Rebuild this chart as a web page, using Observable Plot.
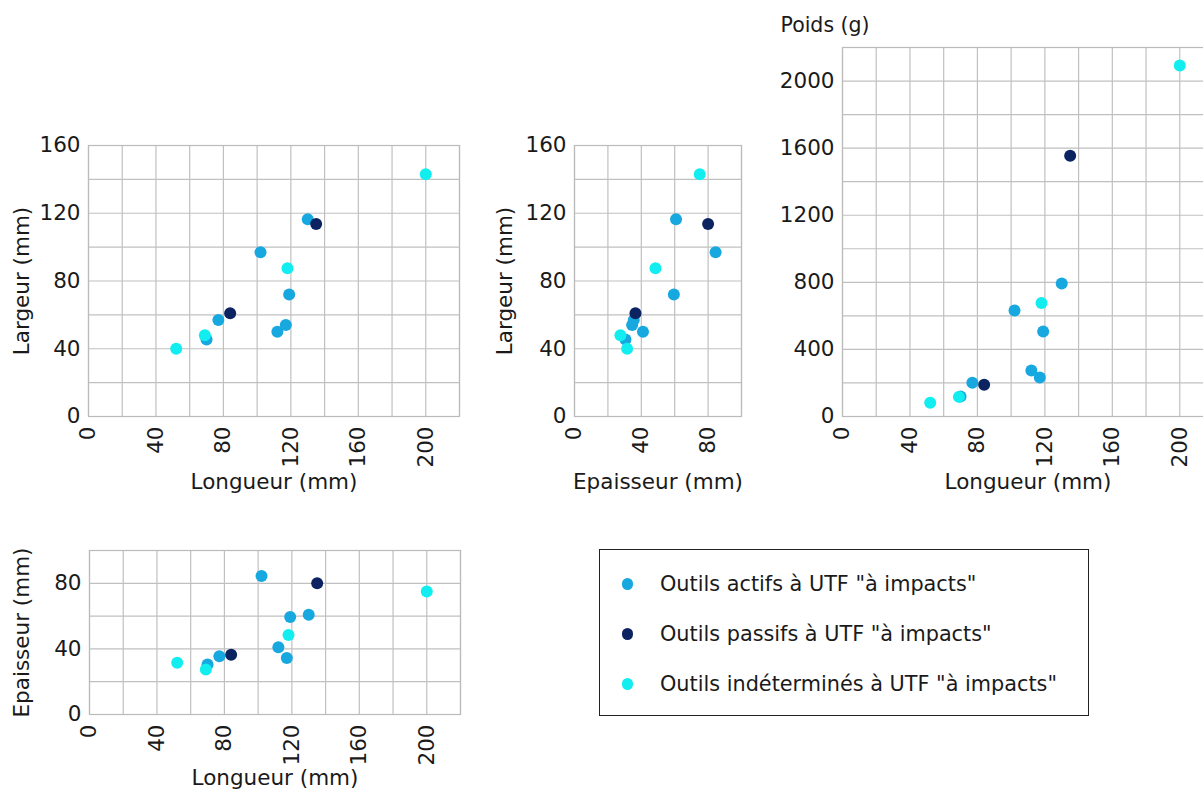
<!DOCTYPE html>
<html>
<head>
<meta charset="utf-8">
<script src="https://cdn.jsdelivr.net/npm/d3@7"></script>
<script src="https://cdn.jsdelivr.net/npm/@observablehq/plot@0.6"></script>
<style>
  html, body { margin: 0; padding: 0; background: #fff; }
  body { width: 1203px; height: 789px; overflow: hidden; position: relative; font-family: "DejaVu Sans", sans-serif; color: #1a1a1a; }
  .panel { position: absolute; }
  .panel svg { overflow: visible; max-width: none !important; }
  #legend { position: absolute; left: 599px; top: 549px; width: 488px; height: 165px; border: 1.6px solid #222; box-sizing: content-box; }
  .item { position: absolute; left: 0; font-size: 20.8px; line-height: 21px; white-space: nowrap; }
  .item .sw { position: absolute; left: 21.5px; top: 4px; width: 11.5px; height: 11.5px; border-radius: 50%; }
  .item .lb { position: absolute; left: 60px; top: 0; }
</style>
</head>
<body>
<div id="p1" class="panel" style="left:0px; top:130px; width:469px"></div>
<div id="p2" class="panel" style="left:490px; top:130px; width:261px"></div>
<div id="p3" class="panel" style="left:760px; top:0px; width:463px"></div>
<div id="p4" class="panel" style="left:0px; top:530px; width:469px"></div>
<div id="legend"></div>
<script>
// ---- Data ----
const typeNames = [
  'Outils actifs à UTF "à impacts"',
  'Outils passifs à UTF "à impacts"',
  'Outils indéterminés à UTF "à impacts"'
];
const typeColors = ["#17a8e0", "#0b2461", "#12eef0"];

// one entry per tool: type index, longueur, largeur, epaisseur (mm), poids (g)
const toolType  = [0, 0, 0, 0, 0, 0, 0, 1, 1, 2, 2, 2, 2];
const longueur  = [70, 77, 102, 112, 117, 119, 130, 84, 135, 52, 69, 118, 200];
const largeur   = [45.5, 57, 97, 50, 54, 72, 116.5, 61, 113.7, 40, 48, 87.5, 143];
const epaisseur = [30.5, 35.5, 84.5, 41, 34.5, 59.5, 60.8, 36.5, 80, 31.5, 27.5, 48.5, 75];
const poids     = [119, 201, 632, 274, 233, 507, 793, 189, 1555, 82, 117, 676, 2093];

const ticksLongueur = [0, 40, 80, 120, 160, 200];
const ticksLargeur = [0, 40, 80, 120, 160];
const ticksEpaisseur = [0, 40, 80];
const ticksPoids = [0, 400, 800, 1200, 1600, 2000];

const rows = toolType.map((t, i) => ({
  type: typeNames[t], longueur: longueur[i], largeur: largeur[i],
  epaisseur: epaisseur[i], poids: poids[i]
}));

const FS = 21.5;

function panel(o) {
  const marks = [
    Plot.gridX(d3.range(o.xDomain[0], o.xDomain[1] + 1e-9, o.xStep), {stroke: "#c0c0c0", strokeOpacity: 1, strokeWidth: 1.2}),
    Plot.gridY(d3.range(o.yDomain[0], o.yDomain[1] + 1e-9, o.yStep), {stroke: "#c0c0c0", strokeOpacity: 1, strokeWidth: 1.2}),
    Plot.frame({stroke: "#bbbbbb", strokeWidth: 1.2}),
    Plot.axisX(o.xTicks, {tickSize: 0, tickPadding: 10, tickRotate: -90, label: null, tickFormat: d => String(d), fontSize: FS}),
    Plot.axisY(o.yTicks, {tickSize: 0, tickPadding: 8, label: null, tickFormat: d => String(d), fontSize: FS}),
    Plot.dot(rows, {x: o.xKey, y: o.yKey, fill: "type", r: 6}),
    Plot.text([o.xLabel], {frameAnchor: "bottom", lineAnchor: "middle", textAnchor: "middle", dy: o.xLabelDy, fontSize: FS})
  ];
  if (o.yLabel) marks.push(Plot.text([o.yLabel], {frameAnchor: "left", rotate: -90, textAnchor: "middle", lineAnchor: "middle", dx: o.yLabelDx, fontSize: FS}));
  if (o.topLabel) marks.push(Plot.text([o.topLabel], {frameAnchor: "top-left", textAnchor: "start", lineAnchor: "middle", dx: o.topDx, dy: o.topDy, fontSize: FS - 1}));
  return Plot.plot({
    width: o.width, height: o.height,
    marginLeft: o.ml, marginRight: o.mr, marginTop: o.mt, marginBottom: o.mb,
    style: {fontFamily: "DejaVu Sans, sans-serif", fontSize: FS + "px", color: "#1a1a1a", background: "transparent", overflow: "visible", maxWidth: "none"},
    x: {domain: o.xDomain},
    y: {domain: o.yDomain},
    color: {domain: typeNames, range: typeColors},
    marks
  });
}

document.getElementById("p1").append(panel({
  width: 469, height: 370, ml: 88, mr: 10, mt: 15, mb: 84,
  xDomain: [0, 220], yDomain: [0, 160], xStep: 20, yStep: 20,
  xTicks: ticksLongueur, yTicks: ticksLargeur, xKey: "longueur", yKey: "largeur",
  xLabel: "Longueur (mm)", xLabelDy: 66, yLabel: "Largeur (mm)", yLabelDx: -66
}));
document.getElementById("p2").append(panel({
  width: 261, height: 370, ml: 84, mr: 10, mt: 15, mb: 84,
  xDomain: [0, 100], yDomain: [0, 160], xStep: 20, yStep: 20,
  xTicks: ticksEpaisseur, yTicks: ticksLargeur, xKey: "epaisseur", yKey: "largeur",
  xLabel: "Epaisseur (mm)", xLabelDy: 66, yLabel: "Largeur (mm)", yLabelDx: -69
}));
document.getElementById("p3").append(panel({
  width: 463, height: 500, ml: 82, mr: 10, mt: 47, mb: 84,
  xDomain: [0, 220], yDomain: [0, 2200], xStep: 20, yStep: 200,
  xTicks: ticksLongueur, yTicks: ticksPoids, xKey: "longueur", yKey: "poids",
  xLabel: "Longueur (mm)", xLabelDy: 66, topLabel: "Poids (g)", topDx: -62, topDy: -22
}));
document.getElementById("p4").append(panel({
  width: 469, height: 259, ml: 89, mr: 9, mt: 20, mb: 75,
  xDomain: [0, 220], yDomain: [0, 100], xStep: 20, yStep: 20,
  xTicks: ticksLongueur, yTicks: ticksEpaisseur, xKey: "longueur", yKey: "epaisseur",
  xLabel: "Longueur (mm)", xLabelDy: 64, yLabel: "Epaisseur (mm)", yLabelDx: -67
}));

// Legend
const legend = document.getElementById("legend");
typeNames.forEach((name, i) => {
  const item = document.createElement("div");
  item.className = "item";
  item.style.top = (24 + i * 50) + "px";
  const sw = document.createElement("span");
  sw.className = "sw";
  sw.style.background = typeColors[i];
  const lb = document.createElement("span");
  lb.className = "lb";
  lb.textContent = name;
  item.append(sw, lb);
  legend.append(item);
});
</script>
</body>
</html>
